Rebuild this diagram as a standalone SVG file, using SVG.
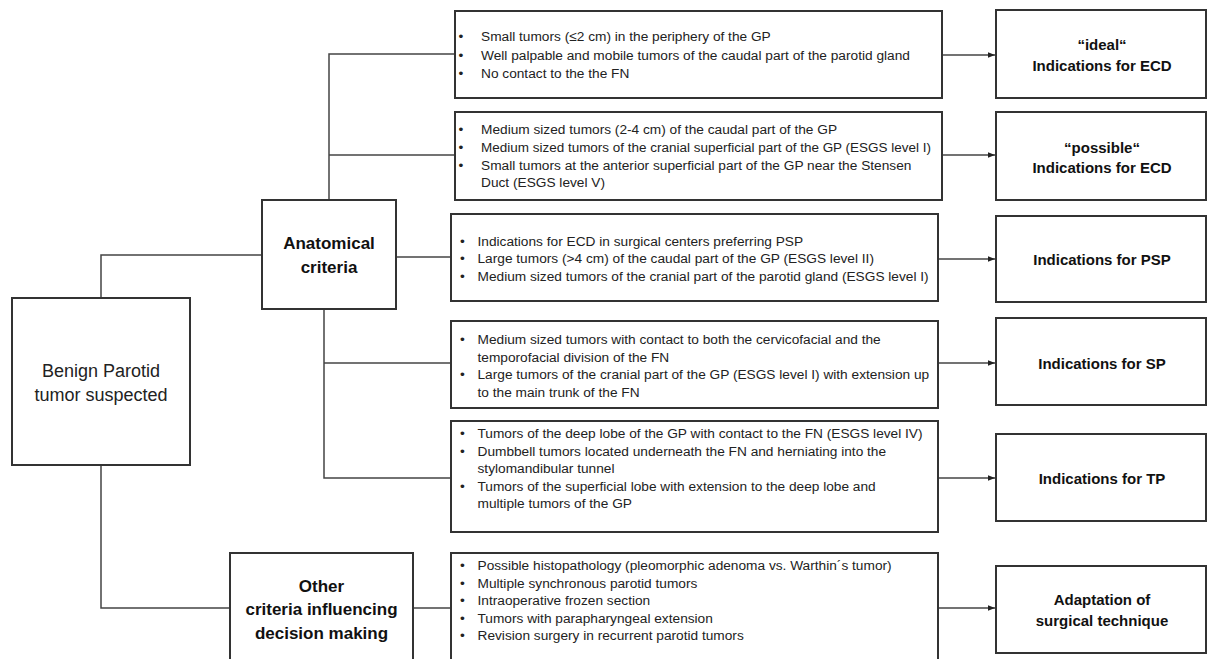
<svg xmlns="http://www.w3.org/2000/svg" width="1208" height="659" viewBox="0 0 1208 659">
<style>
.box{fill:#fff;stroke:#333;stroke-width:2}
.ln{fill:none;stroke:#444;stroke-width:1.5}
.t{font-family:"Liberation Sans",Arial,sans-serif;font-size:13.7px;fill:#222}
.b{font-family:"Liberation Sans",Arial,sans-serif;font-weight:bold;fill:#111;text-anchor:middle}
.r{font-family:"Liberation Sans",Arial,sans-serif;fill:#222;text-anchor:middle;font-size:18px}
</style>
<defs>
<marker id="ah" viewBox="0 0 10 10" refX="10" refY="5" markerWidth="7" markerHeight="7" markerUnits="userSpaceOnUse" orient="auto">
<path d="M0,1 L10,5 L0,9 Z" fill="#222"/>
</marker>
</defs>
<rect width="1208" height="659" fill="#fff"/>
<g id="connectors">
<path class="ln" d="M455,54 H329 V200"/>
<path class="ln" d="M329,155 H455"/>
<path class="ln" d="M396,257 H451"/>
<path class="ln" d="M324,309 V478 H451"/>
<path class="ln" d="M324,363 H451"/>
<path class="ln" d="M262,255 H101 V298"/>
<path class="ln" d="M101,465 V608 H230"/>
<path class="ln" d="M413,608 H451"/>
<path class="ln" d="M942,55 H995" marker-end="url(#ah)"/>
<path class="ln" d="M942,155 H995" marker-end="url(#ah)"/>
<path class="ln" d="M938,259 H995" marker-end="url(#ah)"/>
<path class="ln" d="M938,363 H995" marker-end="url(#ah)"/>
<path class="ln" d="M938,478 H995" marker-end="url(#ah)"/>
<path class="ln" d="M938,608 H995" marker-end="url(#ah)"/>
</g>
<g id="benign">
<rect class="box" x="12" y="298" width="178" height="167"/>
<text class="r" x="101" y="376.5">Benign Parotid</text>
<text class="r" x="101" y="400.5">tumor suspected</text>
</g>
<g id="anatomical">
<rect class="box" x="262" y="200" width="134" height="109"/>
<text class="b" font-size="17" x="329" y="249">Anatomical</text>
<text class="b" font-size="17" x="329" y="273">criteria</text>
</g>
<g id="other">
<rect class="box" x="230" y="553" width="183" height="120"/>
<text class="b" font-size="17" x="321.5" y="592">Other</text>
<text class="b" font-size="17" x="321.5" y="615">criteria influencing</text>
<text class="b" font-size="17" x="321.5" y="639">decision making</text>
</g>
<g id="crit1">
<rect class="box" x="455" y="11" width="487" height="87"/>
<text class="t" x="458.5" y="41">•</text><text class="t" x="481" y="41">Small tumors (≤2 cm) in the periphery of the GP</text>
<text class="t" x="458.5" y="59.5">•</text><text class="t" x="481" y="59.5">Well palpable and mobile tumors of the caudal part of the parotid gland</text>
<text class="t" x="458.5" y="78">•</text><text class="t" x="481" y="78">No contact to the the FN</text>
</g>
<g id="crit2">
<rect class="box" x="455" y="112" width="487" height="88"/>
<text class="t" x="458.5" y="134">•</text><text class="t" x="481" y="134">Medium sized tumors (2-4 cm) of the caudal part of the GP</text>
<text class="t" x="458.5" y="152">•</text><text class="t" x="481" y="152" textLength="450" lengthAdjust="spacingAndGlyphs">Medium sized tumors of the cranial superficial part of the GP (ESGS level I)</text>
<text class="t" x="458.5" y="169.5">•</text><text class="t" x="481" y="169.5">Small tumors at the anterior superficial part of the GP near the Stensen</text>
<text class="t" x="481" y="187">Duct (ESGS level V)</text>
</g>
<g id="crit3">
<rect class="box" x="451" y="214" width="487" height="87"/>
<text class="t" x="460" y="246">•</text><text class="t" x="477.5" y="246">Indications for ECD in surgical centers preferring PSP</text>
<text class="t" x="460" y="263">•</text><text class="t" x="477.5" y="263">Large tumors (&gt;4 cm) of the caudal part of the GP (ESGS level II)</text>
<text class="t" x="460" y="280.5">•</text><text class="t" x="477.5" y="280.5">Medium sized tumors of the cranial part of the parotid gland (ESGS level I)</text>
</g>
<g id="crit4">
<rect class="box" x="451" y="321" width="487" height="87"/>
<text class="t" x="460" y="344">•</text><text class="t" x="477.5" y="344">Medium sized tumors with contact to both the cervicofacial and the</text>
<text class="t" x="477.5" y="361.7">temporofacial division of the FN</text>
<text class="t" x="460" y="379.4">•</text><text class="t" x="477.5" y="379.4">Large tumors of the cranial part of the GP (ESGS level I) with extension up</text>
<text class="t" x="477.5" y="397.1">to the main trunk of the FN</text>
</g>
<g id="crit5">
<rect class="box" x="451" y="421" width="487" height="111"/>
<text class="t" x="460" y="438">•</text><text class="t" x="477.5" y="438">Tumors of the deep lobe of the GP with contact to the FN (ESGS level IV)</text>
<text class="t" x="460" y="455.5">•</text><text class="t" x="477.5" y="455.5">Dumbbell tumors located underneath the FN and herniating into the</text>
<text class="t" x="477.5" y="473">stylomandibular tunnel</text>
<text class="t" x="460" y="490.5">•</text><text class="t" x="477.5" y="490.5">Tumors of the superficial lobe with extension to the deep lobe and</text>
<text class="t" x="477.5" y="508">multiple tumors of the GP</text>
</g>
<g id="crit6">
<rect class="box" x="451" y="553" width="487" height="120"/>
<text class="t" x="460" y="570">•</text><text class="t" x="477.5" y="570">Possible histopathology (pleomorphic adenoma vs. Warthin´s tumor)</text>
<text class="t" x="460" y="587.5">•</text><text class="t" x="477.5" y="587.5">Multiple synchronous parotid tumors</text>
<text class="t" x="460" y="605">•</text><text class="t" x="477.5" y="605">Intraoperative frozen section</text>
<text class="t" x="460" y="622.5">•</text><text class="t" x="477.5" y="622.5">Tumors with parapharyngeal extension</text>
<text class="t" x="460" y="640">•</text><text class="t" x="477.5" y="640">Revision surgery in recurrent parotid tumors</text>
</g>
<g id="ideal">
<rect class="box" x="996" y="10" width="210" height="88"/>
<text class="b" font-size="15" x="1102" y="49.5">“ideal“</text>
<text class="b" font-size="15" x="1102" y="70.5">Indications for ECD</text>
</g>
<g id="possible">
<rect class="box" x="996" y="112" width="210" height="88"/>
<text class="b" font-size="15" x="1102" y="152.5">“possible“</text>
<text class="b" font-size="15" x="1102" y="172.5">Indications for ECD</text>
</g>
<g id="psp">
<rect class="box" x="996" y="216" width="210" height="86"/>
<text class="b" font-size="15" x="1102" y="264.5">Indications for PSP</text>
</g>
<g id="sp">
<rect class="box" x="996" y="318" width="210" height="87"/>
<text class="b" font-size="15" x="1102" y="368.5">Indications for SP</text>
</g>
<g id="tp">
<rect class="box" x="996" y="434" width="210" height="87"/>
<text class="b" font-size="15" x="1102" y="483.5">Indications for TP</text>
</g>
<g id="adapt">
<rect class="box" x="996" y="566" width="210" height="87"/>
<text class="b" font-size="15" x="1102" y="604.5">Adaptation of</text>
<text class="b" font-size="15" x="1102" y="625.5">surgical technique</text>
</g>
</svg>
